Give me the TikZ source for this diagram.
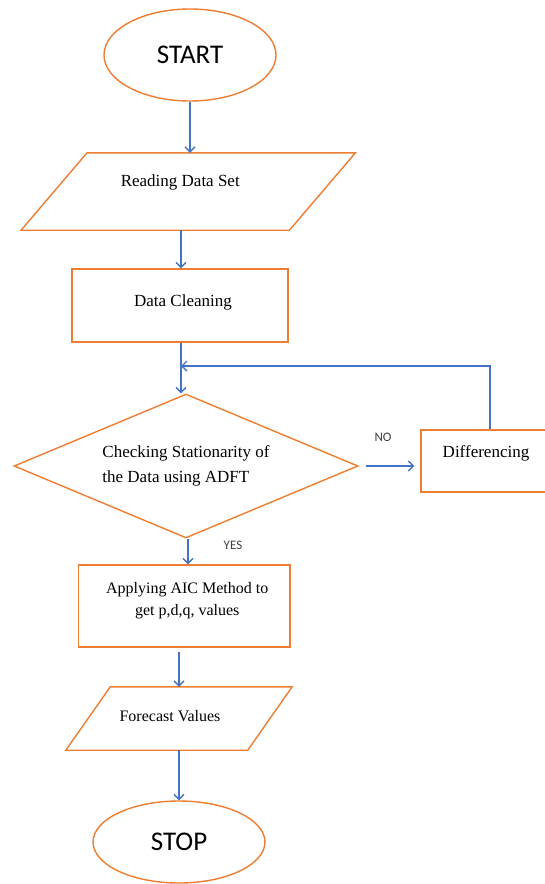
\documentclass[tikz,border=0pt]{standalone}
\usepackage{fontspec}
\setmainfont{Liberation Serif}
\newfontfamily\carl{Carlito}
\usetikzlibrary{shapes.geometric,arrows.meta}
\definecolor{orng}{HTML}{ED7D31}
\definecolor{blu}{HTML}{4472C4}
\begin{document}
\begin{tikzpicture}[x=1pt,y=-1pt,
  shp/.style={draw=orng,line width=1.4pt,inner sep=0pt},
  term/.style={shp,ellipse,font=\carl\fontsize{27}{30}\selectfont},
  box/.style={shp,rectangle},
  hid/.style={rectangle,inner sep=0pt},
  txt/.style={font=\fontsize{17}{25}\selectfont,align=center,inner sep=0pt},
  stxt/.style={font=\fontsize{16}{22}\selectfont,align=center,inner sep=0pt},
  arr/.style={draw=blu,line width=1.4pt,-{Straight Barb[length=5pt,width=10pt]}},
  lbl/.style={font=\carl\fontsize{13}{15}\selectfont,text=black!75,inner sep=0pt}]
\useasboundingbox (0,0) rectangle (545,884);

% nodes
\node[term,minimum width=172,minimum height=92] (start) at (190,55) {START};
\node[hid,minimum width=334,minimum height=77,
  label={[txt,xshift=-8pt,yshift=9.5pt]center:Reading Data Set}] (read) at (188.25,191.5) {};
\node[box,minimum width=216,minimum height=73,
  label={[txt,xshift=3pt,yshift=3.5pt]center:Data Cleaning}] (clean) at (180,305.5) {};
\node[shp,diamond,aspect=2.4,minimum width=344,minimum height=144,
  font=\fontsize{17}{25}\selectfont,align=left] (check) at (186,466)
  {Checking Stationarity of\\the Data using ADFT};
\node[box,minimum width=125,minimum height=62,
  label={[txt,xshift=2.5pt,yshift=8pt]center:Differencing}] (diff) at (483.5,461) {};
\node[box,minimum width=211.5,minimum height=82,
  label={[stxt,xshift=3pt,yshift=5pt]center:Applying AIC Method to\\get p,d,q, values}] (aic) at (184.25,606) {};
\node[hid,minimum width=226,minimum height=63,
  label={[stxt,xshift=-9pt,yshift=2.5pt]center:Forecast Values}] (fc) at (179,718.5) {};
\node[term,minimum width=172,minimum height=82] (stop) at (179,842) {STOP};

% parallelogram outlines
\draw[shp] ([xshift=66pt]read.north west) -- (read.north east)
  -- ([xshift=-66pt]read.south east) -- (read.south west) -- cycle;
\draw[shp] ([xshift=44.5pt]fc.north west) -- (fc.north east)
  -- ([xshift=-44.5pt]fc.south east) -- (fc.south west) -- cycle;

% labels
\node[lbl] (no) at (383,437) {NO};
\node[lbl] (yes) at (233,545) {YES};

% connectors
\coordinate (join) at (181,366);
\draw[arr] (start.south) -- (start.south |- read.north);
\draw[arr] ([xshift=1pt]clean.north |- read.south) -- ([xshift=1pt]clean.north);
\draw[arr] ([xshift=1pt]clean.south) -- ([xshift=1pt]clean.south |- check.north);
\draw[arr] ([xshift=7pt]check.east) -- ([xshift=-6pt]diff.west |- check.east);
\draw[arr] ([xshift=6.5pt]diff.north) |- (join);
\draw[arr] ([xshift=2pt]check.south) -- ([xshift=2pt]check.south |- aic.north);
\draw[arr] ([yshift=-4pt]fc.north |- aic.south) -- (fc.north);
\draw[arr] (stop.north |- fc.south) -- (stop.north);
\end{tikzpicture}
\end{document}
